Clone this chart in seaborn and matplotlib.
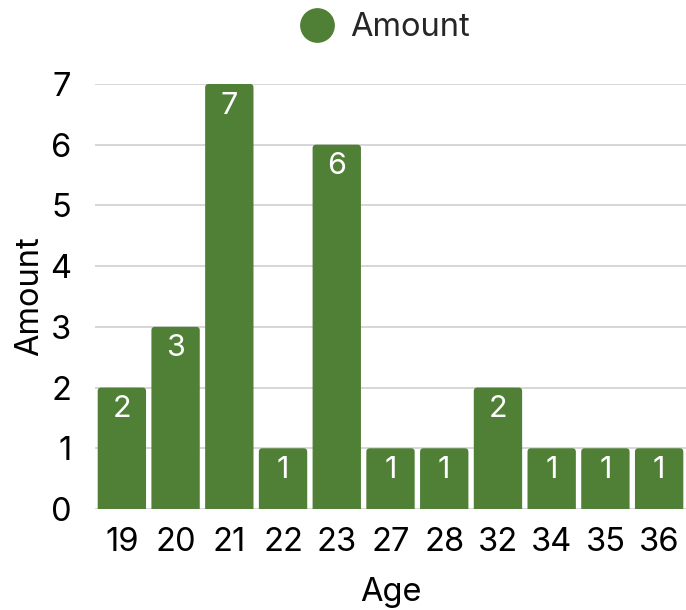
import matplotlib
matplotlib.use("Agg")
import matplotlib.pyplot as plt
from matplotlib.lines import Line2D
from matplotlib.patches import FancyBboxPatch
import seaborn as sns
import pandas as pd

ages = ["19", "20", "21", "22", "23", "27", "28", "32", "34", "35", "36"]
amounts = [2, 3, 7, 1, 6, 1, 1, 2, 1, 1, 1]
series_name = "Amount"
x_title = "Age"
y_title = "Amount"
bar_color = "#507f36"

sns.set_theme(style="white")
plt.rcParams["font.family"] = ["Inter", "DejaVu Sans"]

df = pd.DataFrame({"Age": ages, "Amount": amounts})

W, H = 686, 610
fig = plt.figure(figsize=(W/100, H/100), dpi=100)
ax_l, ax_r, ax_b, ax_t = 95, 686, 509, 84
ax = fig.add_axes([ax_l/W, 1-ax_b/H, (ax_r-ax_l)/W, (ax_b-ax_t)/H])

sns.barplot(data=df, x="Age", y="Amount", color=bar_color, width=0.9,
            saturation=1, ax=ax, zorder=3)

ax.set_ylim(0, 7)
ax.set_xlim(-0.5, len(ages)-0.5)

# round the top corners of the bars (bottom corners are clipped below 0)
px_per_x = (ax_r-ax_l)/len(ages)
px_per_y = (ax_b-ax_t)/7
r_px = 3.5
ext = 0.3
for p in list(ax.patches):
    x0, y0 = p.get_x(), p.get_y()
    w, h = p.get_width(), p.get_height()
    p.remove()
    rr = FancyBboxPatch((x0, y0-ext), w, h+ext,
                        boxstyle=f"round,pad=0,rounding_size={r_px/px_per_x}",
                        mutation_aspect=px_per_x/px_per_y,
                        facecolor=bar_color, edgecolor="none", zorder=3)
    ax.add_patch(rr)

fs = 23.5
ax.set_yticks(range(0, 8))
ax.yaxis.grid(True, color="#d0d0d0", linewidth=1.2, zorder=0)
ax.set_axisbelow(True)
for s in ax.spines.values():
    s.set_visible(False)
ax.tick_params(axis="both", length=0, labelsize=fs, colors="black")
ax.tick_params(axis="x", pad=13)
ax.tick_params(axis="y", pad=17)
ax.set_xlabel(x_title, fontsize=fs, color="black")
ax.set_ylabel(y_title, fontsize=fs, color="black")
ax.xaxis.set_label_coords(0.5, 1-(592-ax_t)/(ax_b-ax_t), transform=ax.transAxes)
ax.xaxis.label.set_va("center")
ax.yaxis.set_label_coords((30-ax_l)/(ax_r-ax_l), 0.5, transform=ax.transAxes)
ax.yaxis.label.set_va("center")

for i, v in enumerate(amounts):
    ax.annotate(str(v), (i, v), xytext=(0, -5.5), textcoords="offset points",
                ha="center", va="top", color="white", fontsize=22, zorder=5)

handle = Line2D([], [], marker="o", linestyle="none", markersize=24,
                markerfacecolor=bar_color, markeredgecolor=bar_color)
fig.legend([handle], [series_name], loc="center",
           bbox_to_anchor=(382/W, 1-28/H), frameon=False, fontsize=fs,
           handletextpad=0.3, handlelength=1.4, borderpad=0, borderaxespad=0)

fig.savefig("out.png", dpi=100)
